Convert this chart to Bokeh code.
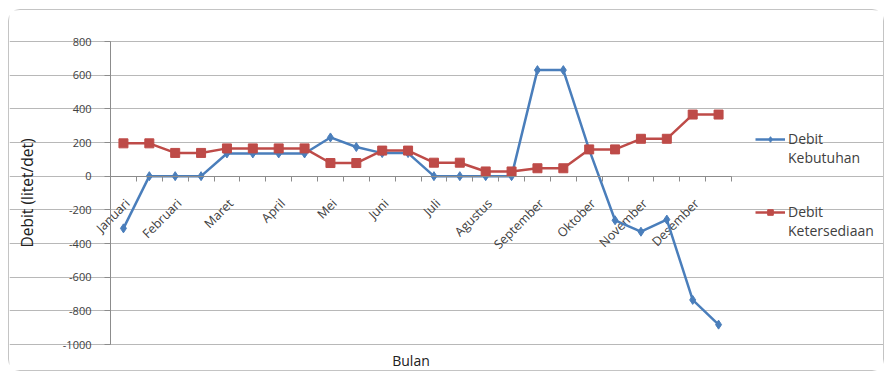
import numpy as np
from bokeh.plotting import figure
from bokeh.models import Range1d, FixedTicker, Legend, LegendItem, LinearAxis, Label
from bokeh.core.properties import value
from bokeh.embed import file_html
from bokeh.resources import INLINE

months = ["Januari", "Februari", "Maret", "April", "Mei", "Juni", "Juli",
          "Agustus", "September", "Oktober", "November", "Desember"]
kebutuhan = [-310, 0, 0, 0, 135, 135, 135, 135, 230, 173, 137, 137,
             0, 0, 0, 0, 630, 630, 158, -262, -330, -258, -735, -882]
ketersediaan = [195, 195, 138, 138, 165, 165, 165, 165, 78, 78, 152, 152,
                80, 80, 28, 28, 47, 47, 159, 159, 222, 222, 366, 366]
y_ticks = [-1000, -800, -600, -400, -200, 0, 200, 400, 600, 800]

FONT = "Open Sans"
BLUE = "#4a7ebb"
RED = "#be4b48"
GRID = "#b8b8b8"
AXIS = "#8c8c8c"
TXT = "#404040"

n = len(kebutuhan)
x = np.arange(n)
y_lo, y_hi = min(y_ticks), max(y_ticks)

# canvas and the pixel box of the data area inside it
W, H = 876, 362
DL, DT, DW, DH = 101, 31, 621, 303
px_x = DW / n
px_y = DH / (y_hi - y_lo)
x_start = -0.5 - DL / px_x
x_end = -0.5 + (W - DL) / px_x
y_top = y_hi + DT / px_y
y_bot = y_lo - (H - DT - DH) / px_y

p = figure(width=W, height=H, x_range=Range1d(x_start, x_end),
           y_range=Range1d(y_bot, y_top),
           output_backend="svg", toolbar_location=None,
           min_border_left=0, min_border_right=0,
           min_border_top=0, min_border_bottom=0)
p.margin = (9, 0, 0, 8)
p.styles = {"border": "1px solid #c4c4c4", "border-radius": "12px"}
p.outline_line_color = None
p.background_fill_color = "white"
p.border_fill_color = None
p.xaxis.visible = False
p.yaxis.visible = False

# grid limited to the data area
p.xgrid.visible = False
p.ygrid.ticker = FixedTicker(ticks=y_ticks)
p.ygrid.bounds = (-0.5, n - 0.5)
p.ygrid.grid_line_color = GRID
p.ygrid.grid_line_width = 1

# value axis at the left edge of the categories
y_axis = LinearAxis(
    fixed_location=-0.5, bounds=(y_lo, y_hi),
    ticker=FixedTicker(ticks=y_ticks),
    major_label_overrides={t: str(t) for t in y_ticks},
    axis_line_color=AXIS, major_tick_line_color=AXIS,
    major_tick_out=6, major_tick_in=0, minor_tick_line_color=None,
    major_label_standoff=13,
    major_label_text_font=FONT, major_label_text_font_size="11px",
    major_label_text_color=TXT,
    axis_label="Debit (litet/det)", axis_label_standoff=22,
    axis_label_text_font=FONT, axis_label_text_font_style="normal",
    axis_label_text_font_size="15.5px", axis_label_text_color="#202020")
p.add_layout(y_axis, "left")

# category axis crossing at zero (line and boundary ticks only)
cat_axis = LinearAxis(
    fixed_location=0, bounds=(-0.5, n - 0.5),
    ticker=FixedTicker(ticks=[], minor_ticks=[float(v) for v in np.arange(n + 1) - 0.5]),
    axis_line_color=AXIS, major_tick_line_color=None,
    major_tick_out=0, major_tick_in=0,
    minor_tick_line_color=AXIS, minor_tick_out=5, minor_tick_in=0,
    major_label_text_font_size="0px")
p.add_layout(cat_axis, "below")

# month labels on every second category, slanted
p.text(x=x[::2], y=0, text=months, angle=np.pi / 4,
       text_align="right", text_baseline="top", x_offset=-2, y_offset=19,
       text_font=value(FONT), text_font_size="12.5px", text_color=TXT)

# x axis title
p.add_layout(Label(x=(n - 1) / 2, y=y_lo, text="Bulan", x_offset=-10, y_offset=-16,
                   text_align="center", text_baseline="middle",
                   text_font=FONT, text_font_size="14px", text_color="#202020"))

# series
l1 = p.line(x, kebutuhan, line_color=BLUE, line_width=2.5)
s1 = p.scatter(x, kebutuhan, marker="diamond", size=9, fill_color=BLUE, line_color=BLUE)
l2 = p.line(x, ketersediaan, line_color=RED, line_width=2.5)
s2 = p.scatter(x, ketersediaan, marker="square", size=9, fill_color=RED, line_color=RED)

# blank renderer so that the second label line of each legend entry has no sample
blank = p.line(x=[], y=[], line_alpha=0)

legend_style = dict(orientation="vertical", background_fill_alpha=0,
                    border_line_color=None, label_text_font=FONT,
                    label_text_font_size="14px", label_text_color=TXT,
                    glyph_width=30, glyph_height=14, spacing=0,
                    label_standoff=3, padding=0, margin=0)
entries = [("Debit", [l1, s1], 224), ("Kebutuhan", [blank], 205),
           ("Debit", [l2, s2], 151), ("Ketersediaan", [blank], 132)]
for text, rends, vy in entries:
    p.add_layout(Legend(items=[LegendItem(label=text, renderers=rends)],
                        location=(746, vy), **legend_style), "center")

open("out.html", "w").write(file_html(p, INLINE))
